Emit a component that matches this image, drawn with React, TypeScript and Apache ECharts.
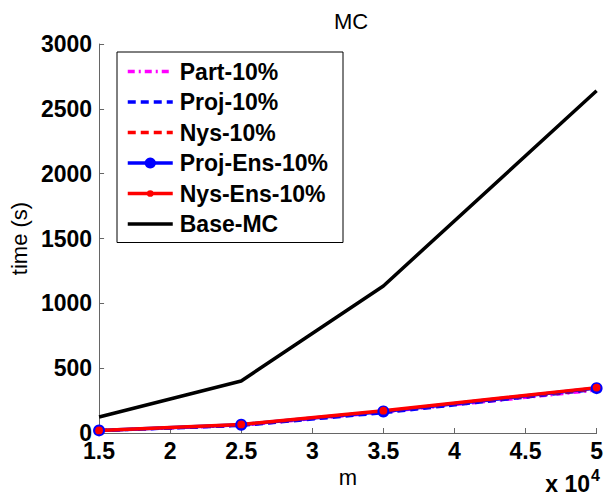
import React, { useEffect, useRef } from "react";
import * as echarts from "echarts";

const mValues = [1.5, 2.5, 3.5, 5];
const partValues = [18, 58, 160, 330];
const projValues = [17, 57, 155, 336];
const nysValues = [20, 61, 166, 340];
const projEnsValues = [20, 64, 166, 346];
const nysEnsValues = [20, 66, 172, 350];
const baseValues = [123, 401, 1134, 2639];

const xTicks = ["1.5", "2", "2.5", "3", "3.5", "4", "4.5", "5"];
const seriesNames = ["Part-10%", "Proj-10%", "Nys-10%", "Proj-Ens-10%", "Nys-Ens-10%", "Base-MC"];

const FONT = "Liberation Sans, Arial, Helvetica, sans-serif";
// small dot symbol padded inside its box (so the legend dot is smaller than the circle)
const SMALL_DOT = "path://M0,0M10,10M5,2A3,3,0,1,1,5,8A3,3,0,1,1,5,2Z";

const pairs = (ys: number[]) => mValues.map((x, i) => [x, ys[i]]);

export default function App() {
  const ref = useRef<HTMLDivElement>(null);
  useEffect(() => {
    if (!ref.current) return;
    const chart = echarts.init(ref.current, undefined, { renderer: "svg" });
    chart.setOption({
      animation: false,
      backgroundColor: "#ffffff",
      title: {
        text: "MC",
        left: 346,
        top: 5,
        textAlign: "center",
        textStyle: { fontFamily: FONT, fontWeight: "normal", fontSize: 22, color: "#000" },
      },
      grid: { left: 96, right: 7, top: 44, bottom: 65, containLabel: false },
      xAxis: {
        type: "value",
        min: 1.5,
        max: 5,
        interval: 0.5,
        name: "m",
        nameLocation: "middle",
        nameGap: 29,
        nameTextStyle: { fontFamily: FONT, fontSize: 22, color: "#000" },
        axisLine: { lineStyle: { color: "#666", width: 1 } },
        axisTick: { inside: true, length: 5, lineStyle: { color: "#666" } },
        splitLine: { show: false },
        axisLabel: {
          margin: 6,
          fontFamily: FONT,
          fontWeight: "bold",
          fontSize: 23,
          color: "#000",
          formatter: (v: number) => {
            const s = String(Math.round(v * 10) / 10);
            return xTicks.includes(s) ? s : "";
          },
        },
      },
      yAxis: {
        type: "value",
        min: 0,
        max: 3000,
        interval: 500,
        name: "time (s)",
        nameLocation: "middle",
        nameRotate: 90,
        nameGap: 64,
        nameTextStyle: { fontFamily: FONT, fontSize: 22, color: "#000" },
        axisLine: { show: true, lineStyle: { color: "#666", width: 1 } },
        axisTick: { show: true, inside: true, length: 5, lineStyle: { color: "#666" } },
        splitLine: { show: false },
        axisLabel: {
          margin: 7,
          fontFamily: FONT,
          fontWeight: "bold",
          fontSize: 23,
          color: "#000",
          formatter: (v: number) => String(v),
        },
      },
      legend: {
        orient: "vertical",
        left: 117,
        top: 52,
        padding: [8, 15, 7, 9],
        itemWidth: 45,
        itemHeight: 14,
        itemGap: 7.5,
        backgroundColor: "#fff",
        borderColor: "#000",
        borderWidth: 1,
        borderRadius: 0,
        lineStyle: { width: 3.5 },
        textStyle: { fontFamily: FONT, fontWeight: "bold", fontSize: 23, color: "#000", padding: [0, 0, 0, 2] },
        data: seriesNames.map((name, i) =>
          i === 3 || i === 4 ? { name } : { name, itemStyle: { opacity: 0 } }
        ),
      },
      graphic: [
        {
          type: "text",
          right: 6,
          bottom: 3,
          style: {
            text: "{a|x 10}{b|4}",
            rich: {
              a: { fontFamily: FONT, fontWeight: "bold", fontSize: 23, fill: "#000" },
              b: { fontFamily: FONT, fontWeight: "bold", fontSize: 16, fill: "#000", verticalAlign: "top", padding: [0, 0, 16, 1] },
            },
          },
        },
      ],
      series: [
        {
          name: seriesNames[0],
          type: "line",
          data: pairs(partValues),
          symbol: "none",
          lineStyle: { color: "#ff00ff", width: 3, type: [7, 4, 2, 4] },
          itemStyle: { color: "#ff00ff" },
        },
        {
          name: seriesNames[1],
          type: "line",
          data: pairs(projValues),
          symbol: "none",
          lineStyle: { color: "#0000ff", width: 3, type: [8, 5] },
          itemStyle: { color: "#0000ff" },
        },
        {
          name: seriesNames[2],
          type: "line",
          data: pairs(nysValues),
          symbol: "none",
          lineStyle: { color: "#ff0000", width: 3, type: [8, 5] },
          itemStyle: { color: "#ff0000" },
        },
        {
          name: seriesNames[3],
          type: "line",
          data: pairs(projEnsValues),
          symbol: "circle",
          symbolSize: 12,
          showAllSymbol: true,
          lineStyle: { color: "#0000ff", width: 3.5 },
          itemStyle: { color: "#0000ff" },
        },
        {
          name: seriesNames[4],
          type: "line",
          data: pairs(nysEnsValues),
          symbol: SMALL_DOT,
          symbolSize: 13,
          showAllSymbol: true,
          lineStyle: { color: "#ff0000", width: 3.5 },
          itemStyle: { color: "#ff0000" },
        },
        {
          name: seriesNames[5],
          type: "line",
          data: pairs(baseValues),
          symbol: "none",
          lineStyle: { color: "#000000", width: 3.5 },
          itemStyle: { color: "#000000" },
        },
      ],
    });
    return () => chart.dispose();
  }, []);
  return (
    <div
      ref={ref}
      style={{ position: "fixed", left: 0, top: 0, width: 606, height: 498, background: "#fff" }}
    />
  );
}
